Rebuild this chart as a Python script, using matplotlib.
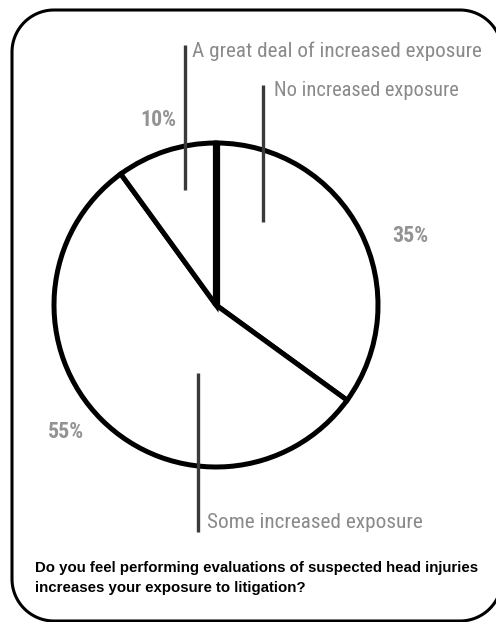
import matplotlib
matplotlib.use("Agg")
import numpy as np
import matplotlib.pyplot as plt
from matplotlib import font_manager

# ---------------------------------------------------------------- data
labels = ["No increased exposure", "Some increased exposure",
          "A great deal of increased exposure"]
shares = [35, 55, 10]
question = ["Do you feel performing evaluations of suspected head injuries",
            "increases your exposure to litigation?"]

W, H = 496, 622

# the labels are set in a narrow face; use one if there is any
have = {(f.name, f.stretch) for f in font_manager.fontManager.ttflist}
names = {n for n, _ in have}
label_font = dict(family="Liberation Sans")
for fam in ["Roboto Condensed", "Liberation Sans Narrow"]:
    if fam in names:
        label_font = dict(family=fam)
        break
else:
    if any(n == "DejaVu Sans" and s == "condensed" for n, s in have):
        label_font = dict(family="DejaVu Sans", stretch="condensed")

fig = plt.figure(figsize=(W / 100, H / 100), dpi=100)
ax = fig.add_axes([0, 0, 1, 1])


def Y(y):
    # picture rows -> axis coords
    return H - y


# pie
ax.pie(shares, center=(216, Y(305)), radius=162, startangle=90,
       counterclock=False, colors=["white"] * 3,
       wedgeprops=dict(ec="black", lw=3.6), frame=True)
ax.set_xlim(0, W)
ax.set_ylim(0, H)
ax.set_aspect("equal")
ax.axis("off")

# rounded frame, drawn as a plain polyline (right side runs off the picture)
x0, x1, y0, y1, r = 12, 502, Y(621), Y(10), 42
th = np.linspace(0, np.pi / 2, 30)
fx = np.concatenate([x1 - r + r * np.cos(th), x0 + r - r * np.sin(th),
                     x0 + r - r * np.cos(th), x1 - r + r * np.sin(th)])
fy = np.concatenate([y1 - r + r * np.sin(th), y1 - r + r * np.cos(th),
                     y0 + r - r * np.sin(th), y0 + r - r * np.cos(th)])
ax.plot(np.append(fx, fx[0]), np.append(fy, fy[0]), c="black", lw=2.2,
        clip_on=False, zorder=0)

# the shared top edge is drawn heavier
ax.plot([216, 216], [Y(305), Y(141)], c="black", lw=5.2, solid_capstyle="butt")

fig.canvas.draw()
rend = fig.canvas.get_renderer()


def fit(t, width):
    # shrink/grow a text until it spans the given pixel width
    w = t.get_window_extent(rend).width
    t.set_fontsize(t.get_fontsize() * width / w)


# leader bars + labels (x, bar top, bar bottom, text x, text y, text width)
lead = {
    "A great deal of increased exposure": (185, 45, 190, 192, 51, 290),
    "No increased exposure": (263, 85, 222, 274, 91, 184),
    "Some increased exposure": (198, 373, 532, 207, 522, 216),
}
for lab in labels:
    bx, b0, b1, tx, ty, tw = lead[lab]
    ax.plot([bx, bx], [Y(b0), Y(b1)], c="#3a3a3a", lw=2.4, solid_capstyle="butt")
    t = ax.text(tx, Y(ty), lab, fontsize=13, color="#8a8a8a",
                ha="left", va="center", **label_font)
    fit(t, tw)

pct_pos = {35: (410, 236), 55: (66, 432), 10: (158, 120)}
for s in shares:
    px, py = pct_pos[s]
    t = ax.text(px, Y(py), f"{s}%", fontsize=12, fontweight="bold",
                color="#939393", ha="center", va="center", **label_font)
    fit(t, 36)

q1 = ax.text(35, Y(568), question[0], family="Liberation Sans", fontsize=10,
             fontweight="bold", color="black", ha="left", va="center")
fit(q1, 447)
ax.text(35, Y(588), question[1], family="Liberation Sans", fontsize=q1.get_fontsize(),
        fontweight="bold", color="black", ha="left", va="center")

fig.savefig("out.png", dpi=100)
